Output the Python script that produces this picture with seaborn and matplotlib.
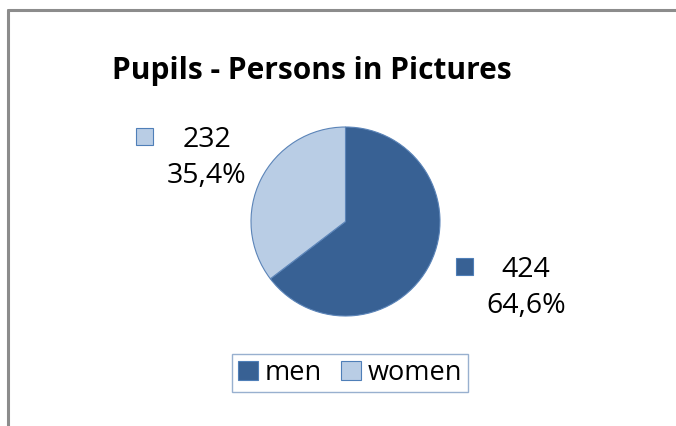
import matplotlib
matplotlib.use("Agg")
import matplotlib.pyplot as plt
import matplotlib.patches as mpatches
import matplotlib.lines as mlines
import seaborn as sns

# data
categories = ["men", "women"]
counts = [424, 232]
percents = ["64,6%", "35,4%"]
colors = ["#386194", "#b9cde5"]
title = "Pupils - Persons in Pictures"

sns.set_theme(style="white")
plt.rcParams["font.family"] = ["Open Sans", "DejaVu Sans"]

W, H = 676, 426
fig = plt.figure(figsize=(W / 100, H / 100), dpi=100)


def fx(px):
    return px / W


def fy(py):
    return 1 - py / H


# outer chart frame (top and left edges visible)
fig.add_artist(mlines.Line2D([fx(8), 1.0], [fy(10), fy(10)], color="#8c8c8c", lw=2.2))
fig.add_artist(mlines.Line2D([fx(8), fx(8)], [fy(10), 0.0], color="#8c8c8c", lw=2.2))

# pie
cx, cy, r = 345.5, 221.5, 94.5
ax = fig.add_axes([fx(cx - r), fy(cy + r), fx(2 * r), (2 * r) / H])
wedges, _ = ax.pie(
    counts,
    colors=colors,
    startangle=90,
    counterclock=False,
    wedgeprops=dict(edgecolor="#5b84b8", linewidth=0.8),
)
ax.set_xlim(-1.0, 1.0)
ax.set_ylim(-1.0, 1.0)
ax.set_aspect("equal")
ax.axis("off")

fig.text(fx(312), fy(71), title, ha="center", va="center",
         fontsize=21.5, fontweight="bold", color="black")

# data labels with square keys
label_pos = {"men": (526, 288, 464, 266), "women": (207, 158, 144, 136)}
for cat, n, p, c in zip(categories, counts, percents, colors):
    tx, ty, kx, ky = label_pos[cat]
    fig.text(fx(tx), fy(ty), f"{n}\n{p}", ha="center", va="center",
             fontsize=20.5, color="black", linespacing=1.4)
    s = 17
    fig.add_artist(mpatches.Rectangle((fx(kx - s / 2), fy(ky + s / 2)), s / W, s / H,
                                      facecolor=c, edgecolor="#4f7fb8", lw=0.8))

# legend
handles = [mpatches.Patch(facecolor=c, edgecolor="#4f7fb8", lw=0.8) for c in colors]
leg = fig.legend(handles, categories, loc="center", bbox_to_anchor=(fx(350), fy(373)),
                 ncol=2, frameon=True, fancybox=False, fontsize=19.5,
                 labelcolor="black",
                 handlelength=0.75, handleheight=0.75, handletextpad=0.25,
                 columnspacing=0.7, borderpad=0.2)
leg.get_frame().set_edgecolor("#7f9cc4")
leg.get_frame().set_linewidth(1.0)

fig.savefig("out.png", dpi=100, facecolor="white")
